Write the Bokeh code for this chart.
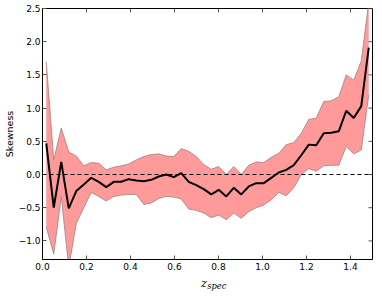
import math
from bokeh.plotting import figure
from bokeh.layouts import column
from bokeh.models import Span, FixedTicker, CustomJSTickFormatter, Range1d, Label
from bokeh.embed import file_html
from bokeh.resources import INLINE

# bin centres of z_spec (44 bins over 0..1.5)
n_bins = 44
z_max = 1.5
z = [(i + 0.5) * z_max / n_bins for i in range(n_bins)]

skew = [0.47, -0.50, 0.19, -0.51, -0.25, -0.15, -0.05, -0.11, -0.19, -0.11,
        -0.11, -0.07, -0.09, -0.10, -0.08, -0.03, 0.00, -0.04, 0.02, -0.11,
        -0.16, -0.22, -0.30, -0.23, -0.33, -0.20, -0.30, -0.18, -0.13, -0.13,
        -0.05, 0.03, 0.07, 0.14, 0.29, 0.45, 0.44, 0.62, 0.63, 0.65,
        0.96, 0.85, 1.03, 1.91]

upper = [1.70, 0.22, 0.70, 0.34, 0.28, 0.13, 0.18, 0.17, 0.07, 0.11,
         0.13, 0.16, 0.22, 0.27, 0.30, 0.31, 0.28, 0.27, 0.39, 0.35,
         0.27, 0.15, 0.08, 0.12, 0.00, 0.12, 0.00, 0.14, 0.19, 0.18,
         0.26, 0.32, 0.45, 0.48, 0.62, 0.83, 0.85, 1.10, 1.11, 1.17,
         1.50, 1.42, 1.71, 2.60]

lower = [-0.79, -1.20, -0.33, -1.40, -0.74, -0.50, -0.27, -0.33, -0.40, -0.33,
         -0.31, -0.30, -0.30, -0.45, -0.43, -0.36, -0.33, -0.34, -0.37, -0.52,
         -0.54, -0.58, -0.65, -0.61, -0.68, -0.58, -0.66, -0.56, -0.50, -0.46,
         -0.38, -0.27, -0.32, -0.20, 0.00, 0.09, 0.05, 0.13, 0.14, 0.14,
         0.42, 0.31, 0.37, 1.20]

x_ticks = [0.0, 0.2, 0.4, 0.6, 0.8, 1.0, 1.2, 1.4]
y_ticks = [-1.0, -0.5, 0.0, 0.5, 1.0, 1.5, 2.0, 2.5]
y_min, y_max = -1.28, 2.5
x_label_main = "z"
x_label_sub = "spec"
y_label = "Skewness"

W = 374
BL, BR = 41, 2
xr = Range1d(0, z_max)

p = figure(width=W, height=272, output_backend="svg", toolbar_location=None,
           x_range=xr, y_range=Range1d(y_min, y_max),
           min_border_left=BL, min_border_right=BR, min_border_top=8, min_border_bottom=12)
p.background_fill_color = "white"
p.border_fill_color = "white"
p.grid.visible = False
p.outline_line_color = "black"
p.outline_line_width = 1

p.varea(x=z, y1=lower, y2=upper, fill_color="#FF9A9A", fill_alpha=1.0)
p.line(x=z, y=upper, line_color="#a08080", line_width=0.8)
p.line(x=z, y=lower, line_color="#a08080", line_width=0.8)
p.add_layout(Span(location=0, dimension="width", line_color="black",
                  line_width=1, line_dash="4 3"))
p.line(x=z, y=skew, line_color="black", line_width=2)

# inward ticks on the top and right edges
p.ray(x=x_ticks, y=[y_max] * len(x_ticks), length=4, length_units="screen",
      angle=-math.pi / 2, line_color="#555555", line_width=1)
p.ray(x=[z_max] * len(y_ticks), y=y_ticks, length=4, length_units="screen",
      angle=math.pi, line_color="#555555", line_width=1)

fmt = CustomJSTickFormatter(code="return tick.toFixed(1).replace('-', '\u2212');")
font = "DejaVu Sans"

for ax in p.xaxis + p.yaxis:
    ax.major_tick_in = 4
    ax.major_tick_out = 0
    ax.minor_tick_line_color = None
    ax.major_label_text_font = font
    ax.major_label_text_font_size = "9px"
    ax.major_label_text_color = "black"
    ax.axis_line_color = "black"
    ax.major_tick_line_color = "#555555"
    ax.formatter = fmt

p.xaxis.ticker = FixedTicker(ticks=x_ticks)
p.yaxis.ticker = FixedTicker(ticks=y_ticks)
p.xaxis.major_label_standoff = 3
p.yaxis.major_label_standoff = 2
p.yaxis.axis_label = y_label
p.yaxis.axis_label_text_font = font
p.yaxis.axis_label_text_font_size = "9.5px"
p.yaxis.axis_label_text_font_style = "normal"
p.yaxis.axis_label_text_color = "black"
p.yaxis.axis_label_standoff = 1

# strip below for the x-axis label z_spec
q = figure(width=W, height=19, output_backend="svg", toolbar_location=None,
           x_range=xr, y_range=Range1d(0, 1), x_axis_location=None, y_axis_location=None,
           min_border_left=BL, min_border_right=BR, min_border_top=0, min_border_bottom=0)
q.outline_line_color = None
q.grid.visible = False
q.background_fill_color = "white"
q.border_fill_color = "white"
q.add_layout(Label(x=0.747, y=0.40, text=x_label_main, text_font="DejaVu Serif",
                   text_font_style="italic", text_font_size="11px", text_align="right",
                   text_baseline="alphabetic", text_color="black"))
q.add_layout(Label(x=0.749, y=0.29, text=x_label_sub, text_font="DejaVu Serif",
                   text_font_style="italic", text_font_size="8.3px", text_align="left",
                   text_baseline="alphabetic", text_color="black"))

layout = column(p, q, spacing=0)
open("out.html", "w").write(file_html(layout, INLINE))
